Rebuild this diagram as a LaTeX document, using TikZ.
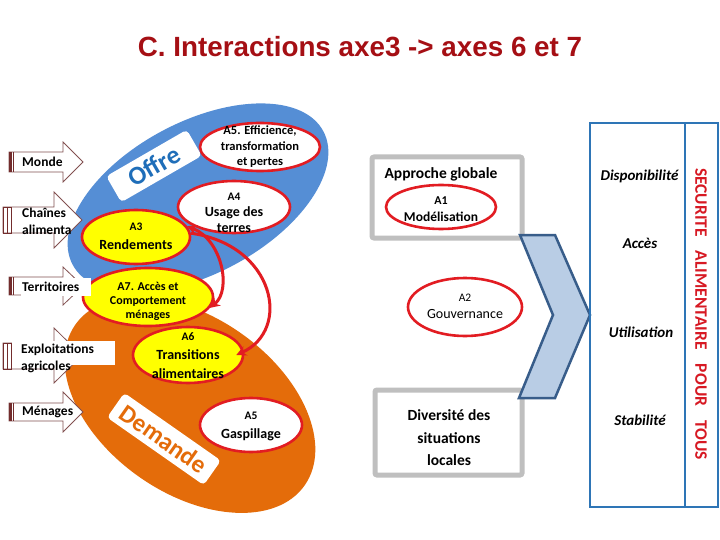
\documentclass[tikz,border=0pt]{standalone}
\usepackage{fontspec}
\setmainfont{Carlito}
\newfontfamily\titlefont{Liberation Sans}
\usetikzlibrary{shapes.geometric,arrows.meta,calc}
\definecolor{titlered}{RGB}{165,15,20}
\definecolor{offreblue}{RGB}{85,142,213}
\definecolor{demorange}{RGB}{228,108,10}
\definecolor{offretext}{RGB}{31,110,185}
\definecolor{redline}{RGB}{226,28,34}
\definecolor{ellyellow}{RGB}{255,255,0}
\definecolor{greyline}{RGB}{191,191,191}
\definecolor{frameblue}{RGB}{46,117,182}
\definecolor{chevfill}{RGB}{185,205,229}
\definecolor{chevline}{RGB}{56,93,138}
\definecolor{secred}{RGB}{215,25,35}
\definecolor{barmaroon}{RGB}{115,45,45}
\definecolor{arrline}{RGB}{130,80,80}
\begin{document}
\begin{tikzpicture}[x=1pt,y=-1pt,
  redell/.style={ellipse, draw=redline, line width=2.6pt, inner sep=0pt},
  elltext/.style={align=center, inner sep=0pt, font=\bfseries\fontsize{14}{19}\selectfont},
  lab/.style={font=\bfseries\fontsize{13.5}{17}\selectfont, inner sep=0pt, align=left},
  lbody/.style={draw=arrline, line width=0.8pt, fill=white},
  greybox/.style={draw=greyline, line width=5pt, fill=white, rounded corners=2pt, inner sep=0pt},
  bluebox/.style={draw=frameblue, line width=2.5pt, inner sep=0pt},
  boxtext/.style={font=\bfseries\fontsize{15.5}{22.5}\selectfont, align=center, inner sep=0pt},
  dimtext/.style={font=\bfseries\itshape\fontsize{15}{18}\selectfont, inner sep=0pt},
  redarr/.style={draw=redline, line width=3pt}
]
\useasboundingbox (0,0) rectangle (720,540);
\fill[white] (0,0) rectangle (720,540);

% title
\node[font=\titlefont\bfseries\fontsize{27.8}{30}\selectfont, text=titlered, anchor=base, inner sep=0pt] (title) at (360,57) {C. Interactions axe3 -> axes 6 et 7};

% big ellipses
\fill[demorange, rotate around={-35:(190,405)}] (190,405) ellipse [x radius=140pt, y radius=88pt];
\fill[offreblue, rotate around={28:(198,198)}] (198,198) ellipse [x radius=142pt, y radius=76pt];

\node[rotate=30, fill=white, rounded corners=4pt, minimum width=93pt, minimum height=30pt, inner sep=0pt, text=offretext, font=\bfseries\fontsize{26}{26}\selectfont] (offre) at (154,166) {Offre};
\node[rotate=-35, fill=white, rounded corners=4pt, minimum width=118pt, minimum height=30pt, inner sep=0pt, text=demorange, font=\bfseries\fontsize{25}{25}\selectfont] (demande) at (164,439) {Demande};

% red ellipses
\node[redell, fill=white, minimum width=120pt, minimum height=48pt] (a5e) at (260,147) {};
\node[elltext, font=\bfseries\fontsize{12.5}{15.5}\selectfont] (a5et) at (a5e) {A5. Efficience,\\transformation\\et pertes};
\node[redell, fill=white, minimum width=112pt, minimum height=52pt] (a4) at (234,207) {};
\node[elltext, font=\bfseries\fontsize{14}{16}\selectfont] (a4t) at (234,213) {{\fontsize{11.5}{13}\selectfont A4}\\Usage des\\terres};
\node[redell, fill=ellyellow, minimum width=108pt, minimum height=54pt] (a3) at (136,237) {};
\node[elltext] (a3t) at (136,236) {{\fontsize{11.5}{13}\selectfont A3}\\Rendements};
\node[redell, fill=ellyellow, minimum width=130pt, minimum height=58pt] (a7) at (148,297) {};
\node[elltext, font=\bfseries\fontsize{12}{14}\selectfont] (a7t) at (148,301) {A7. Accès et\\Comportement\\ménages};
\node[redell, fill=ellyellow, minimum width=110pt, minimum height=56pt] (a6) at (188,355) {};
\node[elltext] (a6t) at (188,356) {{\fontsize{11.5}{13}\selectfont A6}\\Transitions\\alimentaires};
\node[redell, fill=white, minimum width=102pt, minimum height=54pt] (a5g) at (251,425) {};
\node[elltext] (a5gt) at (251,426) {{\fontsize{11.5}{13}\selectfont A5}\\Gaspillage};

% red connectors
\draw[redarr, {Stealth[length=10pt,width=10pt]}-{Stealth[length=10pt,width=10pt]}] (a3.12) .. controls (222,240) and (232,290) .. (a7.-10);
\draw[redarr, -{Stealth[length=10pt,width=10pt]}] (a3.4) .. controls (275,245) and (292,330) .. ($(a6.east)+(-8,0)$);

% left arrows
\draw[lbody] (9,152) -- (63,152) -- (63,142) -- (83,162) -- (63,182) -- (63,172) -- (9,172) -- cycle;
\fill[barmaroon] (9,152) rectangle (12,172);
\draw[barmaroon, line width=0.8pt] (13.5,152) -- (13.5,172);
\node[lab, anchor=west] (monde) at (22,162) {Monde};

\draw[lbody] (3,207) -- (54,207) -- (54,192) -- (82,220) -- (54,248) -- (54,233) -- (3,233) -- cycle;
\draw[barmaroon, line width=0.8pt] (3,207) rectangle (7,233) (7,207) rectangle (11,233);
\node[lab, anchor=north west, font=\bfseries\fontsize{13.5}{17}\selectfont] (chaines) at (22,208) {Chaînes\\alimenta};

\draw[lbody] (9,277) -- (63,277) -- (63,267) -- (83,286) -- (63,305) -- (63,295) -- (9,295) -- cycle;
\fill[barmaroon] (9,277) rectangle (12,295);
\draw[barmaroon, line width=0.8pt] (13.5,277) -- (13.5,295);
\node[lab, anchor=west, fill=white, text width=68pt, inner sep=1pt, minimum height=18pt] (territoires) at (21,287) {Territoires};

\draw[lbody] (3,343) -- (54,343) -- (54,328) -- (82,355.5) -- (54,383) -- (54,369) -- (3,369) -- cycle;
\draw[barmaroon, line width=0.8pt] (3,343) rectangle (7,369) (7,343) rectangle (11,369);
\node[fill=white, minimum width=103pt, minimum height=24pt, inner sep=0pt] (expbg) at (63.5,353) {};
\node[lab, anchor=north west] (exploit) at (21,344) {Exploitations\\agricoles};

\draw[lbody] (9,403) -- (63,403) -- (63,392) -- (83,412) -- (63,432) -- (63,421) -- (9,421) -- cycle;
\fill[barmaroon] (9,403) rectangle (12,421);
\draw[barmaroon, line width=0.8pt] (13.5,403) -- (13.5,421);
\node[lab, anchor=west] (menages) at (22,412) {Ménages};

% right part
\node[greybox, minimum width=150pt, minimum height=81pt] (appr) at (447,197.5) {};
\node[boxtext] (apprt) at (441,174) {Approche globale};
\node[redell, fill=white, minimum width=110pt, minimum height=44pt] (a1) at (441,207) {};
\node[elltext, font=\bfseries\fontsize{13.5}{17}\selectfont] (a1t) at (441,209) {{\fontsize{12}{13}\selectfont A1}\\Modélisation};
\node[redell, fill=white, minimum width=114pt, minimum height=58pt] (a2) at (465,307) {};
\node[elltext, font=\fontsize{14}{17}\selectfont] (a2t) at (465,306) {{\fontsize{11.5}{13}\selectfont A2}\\Gouvernance};
\node[greybox, minimum width=147pt, minimum height=85pt] (div) at (448.5,432.5) {};
\node[boxtext] (divt) at (449,438) {Diversité des\\situations\\locales};

\draw[draw=chevline, fill=chevfill, line width=2.5pt, line join=miter] (520,235) -- (555,235) -- (590,315) -- (555,398) -- (519,398) -- (553,315) -- cycle;

\node[bluebox, minimum width=95pt, minimum height=384pt] (dims) at (637.5,315) {};
\node[bluebox, minimum width=33pt, minimum height=384pt] (secu) at (701.5,315) {};
\node[dimtext] (dispo) at (639.5,176) {Disponibilité};
\node[dimtext] (acces) at (640,243) {Accès};
\node[dimtext] (util) at (641,332) {Utilisation};
\node[dimtext] (stab) at (640,420) {Stabilité};
\node[rotate=-90, text=secred, font=\bfseries\fontsize{17.5}{20}\selectfont, inner sep=0pt] (secut) at (701,314) {SECURITE\hspace{10pt} ALIMENTAIRE\hspace{10pt} POUR\hspace{10pt} TOUS};
\end{tikzpicture}
\end{document}
